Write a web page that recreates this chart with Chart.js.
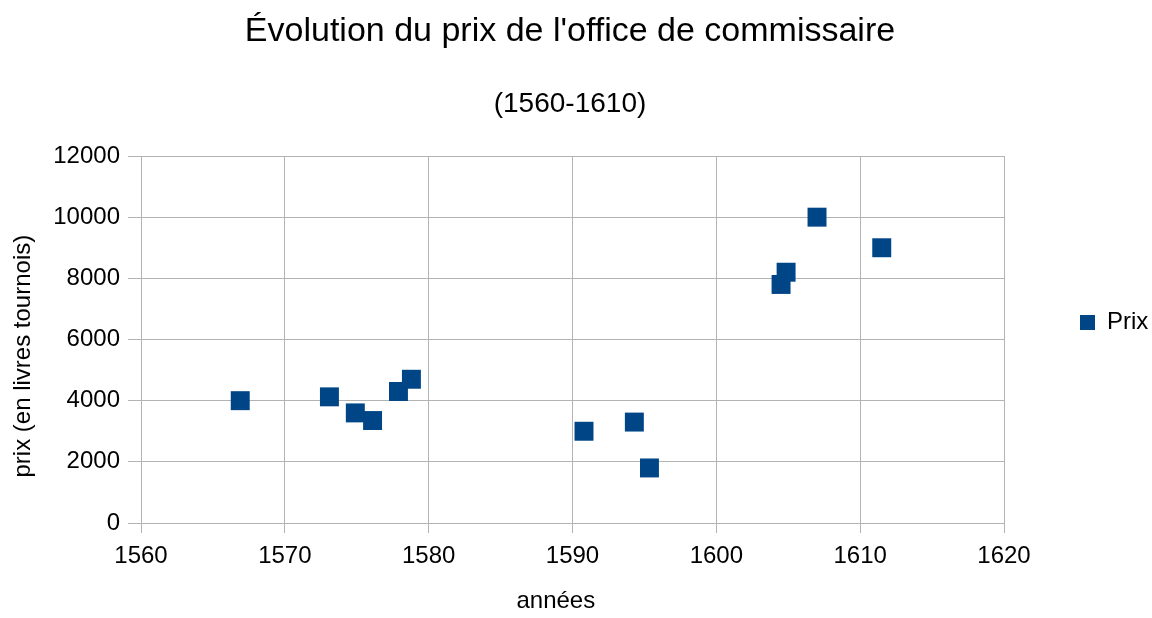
<!DOCTYPE html>
<html>
<head>
<meta charset="utf-8">
<script src="https://cdn.jsdelivr.net/npm/chart.js@4/dist/chart.umd.min.js"></script>
<style>
  html, body { margin: 0; padding: 0; background: #fff; }
  #wrap { width: 1152px; height: 618px; }
</style>
</head>
<body>
<div id="wrap"><canvas id="chart" width="1152" height="618"></canvas></div>
<script>
// Prix de l'office de commissaire (livres tournois)
const annees = [1566.9, 1573.1, 1574.9, 1576.1, 1577.9, 1578.8, 1590.8, 1594.3, 1595.35, 1604.5, 1604.85, 1607, 1611.5];
const prix = [4000, 4125, 3600, 3350, 4300, 4700, 3000, 3300, 1800, 7800, 8200, 10000, 9000];

const titre = "Évolution du prix de l'office de commissaire";
const sousTitre = "(1560-1610)";
const serie = "Prix";

const BLEU = '#004586';
const GRILLE = '#b3b3b3';

Chart.defaults.font.family = "'Liberation Sans', Arial, sans-serif";
Chart.defaults.color = '#000';

// petits décalages de la légende et des titres, comme dans l'original
const decalages = {
    id: 'decalages',
    afterLayout(chart) {
        chart.legend.top -= 17;
        chart.legend.bottom -= 17;
        chart.boxes.filter(b => b.position === 'top').forEach(b => {
            b.left -= 6;
            b.right -= 6;
        });
    }
};

const points = annees.map((a, i) => ({ x: a, y: prix[i] }));

new Chart(document.getElementById('chart'), {
    type: 'scatter',
    data: {
        datasets: [{
            label: serie,
            data: points,
            backgroundColor: BLEU,
            borderColor: BLEU,
            borderWidth: 0,
            pointStyle: 'rect',
            pointRadius: 13.4,
            pointHoverRadius: 13.4
        }]
    },
    options: {
        responsive: false,
        animation: false,
        events: [],
        layout: { padding: 0 },
        plugins: {
            title: {
                display: true,
                text: titre,
                color: '#000',
                font: { size: 34, weight: 'normal' },
                padding: { top: 11, bottom: 35.4 }
            },
            subtitle: {
                display: true,
                text: sousTitre,
                color: '#000',
                font: { size: 28, weight: 'normal' },
                padding: { top: 0, bottom: 35.2 }
            },
            legend: {
                position: 'right',
                fullSize: false,
                maxWidth: 148,
                labels: {
                    boxWidth: 15,
                    boxHeight: 15,
                    padding: 76,
                    font: { size: 24 }
                }
            },
            tooltip: { enabled: false }
        },
        scales: {
            x: {
                type: 'linear',
                min: 1560,
                max: 1620,
                afterFit(scale) { scale.height = 95; },
                ticks: { stepSize: 10, padding: 9, font: { size: 24 }, callback: v => String(v) },
                grid: { color: GRILLE, tickLength: 10 },
                border: { color: GRILLE },
                title: {
                    display: true,
                    text: 'années     ',
                    font: { size: 24 },
                    padding: { top: 0, bottom: 2 }
                }
            },
            y: {
                min: 0,
                max: 12000,
                afterFit(scale) { scale.width = 141; },
                ticks: { stepSize: 2000, padding: 8, font: { size: 24 }, callback: v => String(v) },
                grid: { color: GRILLE, tickLength: 13 },
                border: { color: GRILLE },
                title: {
                    display: true,
                    text: 'prix (en livres tournois)     ',
                    font: { size: 24 },
                    padding: { top: 9, bottom: 0 }
                }
            }
        }
    },
    plugins: [decalages]
});
</script>
</body>
</html>
